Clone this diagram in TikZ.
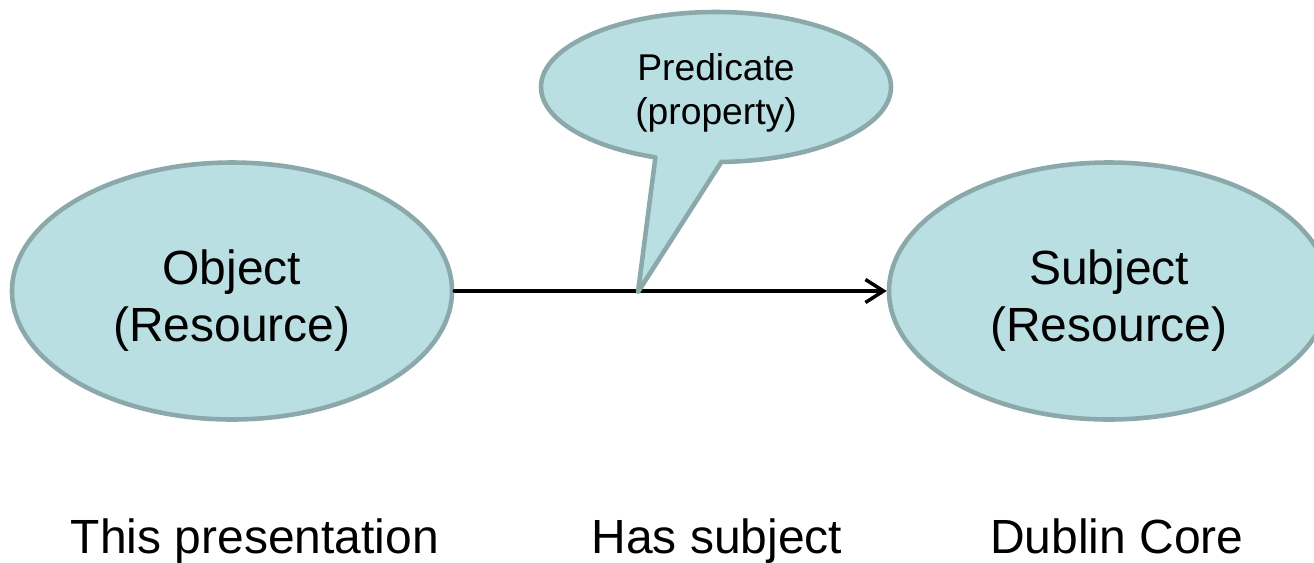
\documentclass[tikz,border=0pt]{standalone}
\usepackage{fontspec}
\setmainfont{Liberation Sans}
\usetikzlibrary{shapes.geometric,shapes.callouts,arrows.meta}
\definecolor{bubble}{RGB}{185,223,226}
\definecolor{rim}{RGB}{139,169,171}
\begin{document}
\begin{tikzpicture}[x=0.2mm, y=-0.2mm, >={Straight Barb[length=3.6mm,width=4.6mm]}, line join=round, line cap=round,
    res/.style={ellipse, draw=rim, fill=bubble, line width=2.6pt, minimum width=88mm, minimum height=51.4mm, inner sep=0pt, align=center, text height=63pt, font=\fontsize{27.3}{32.5}\selectfont},
    lab/.style={anchor=base, font=\fontsize{27.3}{32.5}\selectfont}]
    \clip (0,0) rectangle (1314,562);
    \def\yb{553} % ligne de base des textes du bas
    \node[res] (obj) at (232,291) {Object\\(Resource)};
    \node[res] (subj) at (1109,291) {Subject\\(Resource)};
    \draw[->, line width=2pt] (obj.east) -- (subj.west);
    \coordinate (tip) at (638,292);
    \node[ellipse callout, draw=rim, fill=bubble, line width=2.6pt, minimum width=70mm, minimum height=30mm, inner sep=0pt,
        callout absolute pointer={(tip)}, callout pointer arc=22, align=center, text height=47pt, font=\fontsize{21.2}{25}\selectfont]
        (pred) at (716,87) {Predicate\\(property)};
    \node[lab] (this) at (255,\yb) {This presentation};
    \node[lab] (has) at (717,\yb) {Has subject};
    \node[lab] (dc) at (1117,\yb) {Dublin Core};
\end{tikzpicture}
\end{document}
